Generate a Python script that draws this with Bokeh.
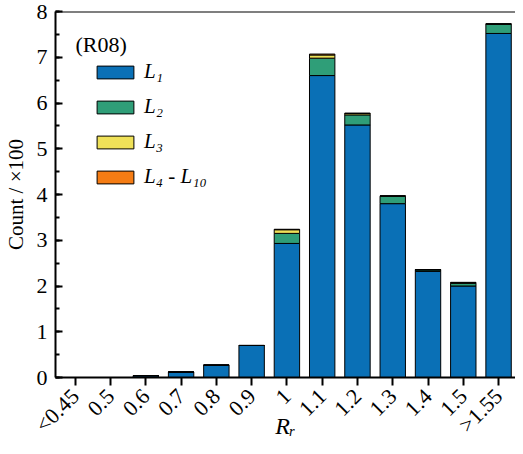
import math
from bokeh.plotting import figure
from bokeh.models import (ColumnDataSource, Range1d, FixedTicker, SingleIntervalTicker,
                          Legend, Label, Span)
from bokeh.embed import file_html
from bokeh.resources import INLINE

# ---- data ----
categories = ["<0.45", "0.5", "0.6", "0.7", "0.8", "0.9", "1", "1.1", "1.2", "1.3", "1.4", "1.5", ">1.55"]
L1 = [0.0, 0.0, 0.04, 0.12, 0.27, 0.70, 2.93, 6.60, 5.52, 3.80, 2.32, 2.00, 7.52]
L2 = [0.0, 0.0, 0.0, 0.0, 0.0, 0.0, 0.22, 0.38, 0.22, 0.16, 0.03, 0.06, 0.20]
L3 = [0.0, 0.0, 0.0, 0.0, 0.0, 0.0, 0.08, 0.07, 0.03, 0.01, 0.01, 0.01, 0.01]
L4_10 = [0.0, 0.0, 0.0, 0.0, 0.0, 0.0, 0.01, 0.02, 0.01, 0.0, 0.0, 0.01, 0.0]
series_labels = ["L\u2081", "L\u2082", "L\u2083", "L\u2084 - L\u2081\u2080"]
colors = ["#0a70b6", "#2f9e78", "#efe158", "#f57c14"]
y_max = 8

xs = list(range(len(categories)))
source = ColumnDataSource(dict(x=xs, L1=L1, L2=L2, L3=L3, L4=L4_10))

W, H = 515, 454
B_LEFT, B_TOP, B_BOTTOM = 52, 11, 77
frame_w = W - B_LEFT
frame_h = H - B_TOP - B_BOTTOM

p = figure(width=W, height=H, output_backend="svg", toolbar_location=None,
           x_range=Range1d(-0.56, 12.48), y_range=Range1d(0, y_max),
           min_border_left=B_LEFT, min_border_right=0, min_border_top=B_TOP,
           min_border_bottom=B_BOTTOM)
p.outline_line_color = None
p.grid.visible = False
p.background_fill_color = "white"

renderers = p.vbar_stack(["L1", "L2", "L3", "L4"], x="x", width=0.72, color=colors,
                         line_color="black", line_width=1, source=source)

FONT = "Liberation Serif"

# x axis
xa = p.xaxis[0]
xa.ticker = FixedTicker(ticks=xs)
xa.major_label_overrides = {i: c for i, c in enumerate(categories)}
xa.major_label_orientation = math.pi / 4
xa.major_label_text_font = FONT
xa.major_label_text_font_size = "22px"
xa.major_label_text_color = "black"
xa.major_tick_in = 0
xa.major_tick_out = 8
xa.major_tick_line_width = 2
xa.minor_tick_line_color = None
xa.axis_line_width = 2
xa.major_label_standoff = 7
xa.axis_label = "R\u1d63"
xa.axis_label_text_font = FONT
xa.axis_label_text_font_style = "italic"
xa.axis_label_text_font_size = "24px"
xa.axis_label_text_color = "black"
xa.axis_label_standoff = -36

# y axis
ya = p.yaxis[0]
ya.ticker = SingleIntervalTicker(interval=1, num_minor_ticks=2)
ya.major_label_text_font = FONT
ya.major_label_text_font_size = "22px"
ya.major_label_text_color = "black"
ya.major_tick_in = 7
ya.major_tick_out = 0
ya.minor_tick_in = 4
ya.minor_tick_out = 0
ya.major_tick_line_width = 2
ya.minor_tick_line_width = 2
ya.axis_line_width = 2
ya.axis_label = "Count / \u00d7100"
ya.axis_label_text_font = FONT
ya.axis_label_text_font_style = "normal"
ya.axis_label_text_font_size = "21px"
ya.axis_label_text_color = "black"
ya.axis_label_standoff = 6
ya.major_label_standoff = 8

# top frame line
p.add_layout(Span(location=y_max, dimension="width", line_color="black", line_width=2))

# legend
legend = Legend(items=[(lab, [r]) for lab, r in zip(series_labels, renderers)],
                glyph_width=46, glyph_height=16, label_height=24, spacing=10,
                padding=0, margin=0, border_line_color=None, background_fill_alpha=0,
                label_text_font=FONT, label_text_font_style="italic",
                label_text_font_size="21px", label_text_color="black", label_standoff=6,
                location=(37, frame_h - 52 - 126))
p.add_layout(legend)

p.add_layout(Label(x=20, y=frame_h - 33, x_units="screen", y_units="screen",
                   text="(R08)", text_font=FONT, text_font_size="22px",
                   text_baseline="middle", text_align="left", text_color="black"))

open("out.html", "w").write(file_html(p, INLINE))
